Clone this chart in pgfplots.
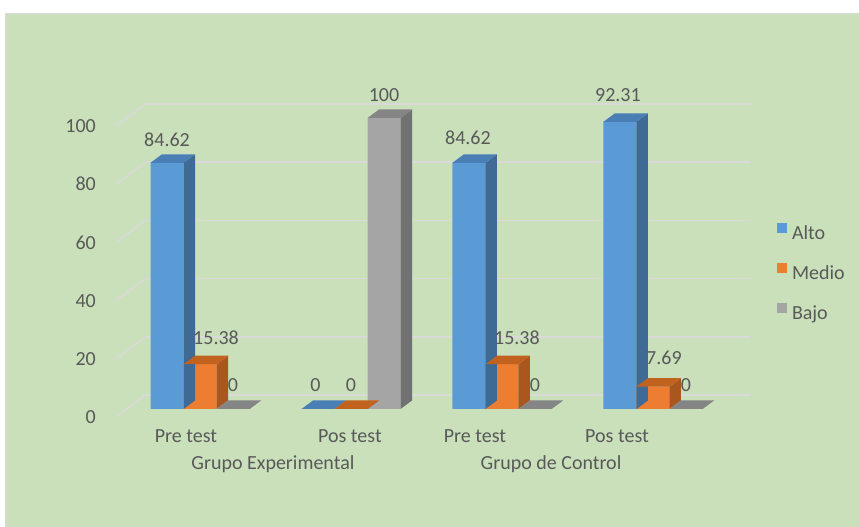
\documentclass[border=0pt]{standalone}
\usepackage{fontspec}
\setmainfont{Carlito}
\usepackage{pgfplots}
\pgfplotsset{compat=1.18}
\usepackage{pgfplotstable}

\definecolor{bg}{HTML}{C9E0BB}
\definecolor{panelborder}{HTML}{D9D9D9}
\definecolor{gridc}{HTML}{D9D9D9}
\definecolor{txt}{HTML}{595959}
\definecolor{blueF}{HTML}{5B9BD5}
\definecolor{blueS}{HTML}{3E6A95}
\definecolor{blueT}{HTML}{4A7FB5}
\definecolor{orF}{HTML}{ED7D31}
\definecolor{orS}{HTML}{A9561F}
\definecolor{orT}{HTML}{C2621F}
\definecolor{grF}{HTML}{A5A5A5}
\definecolor{grS}{HTML}{717171}
\definecolor{grT}{HTML}{858585}

% 3D side + top faces of a bar, drawn as a mark at the bar's top
\newcommand\defcube[4]{%
 \pgfdeclareplotmark{#1}{%
  \pgfsetfillcolor{#3}%
  \pgfpathmoveto{\pgfpoint{#2pt+16.5pt}{0pt}}%
  \pgfpathlineto{\pgfpoint{#2pt+28pt}{8.5pt}}%
  \pgfpathlineto{\pgfpoint{#2pt+28pt}{8.5pt-\cubeh pt}}%
  \pgfpathlineto{\pgfpoint{#2pt+16.5pt}{0pt-\cubeh pt}}%
  \pgfpathclose
  \pgfusepath{fill}%
  \pgfsetfillcolor{#4}%
  \pgfpathmoveto{\pgfpoint{#2pt-16.5pt}{0pt}}%
  \pgfpathlineto{\pgfpoint{#2pt+16.5pt}{0pt}}%
  \pgfpathlineto{\pgfpoint{#2pt+28pt}{8.5pt}}%
  \pgfpathlineto{\pgfpoint{#2pt-5pt}{8.5pt}}%
  \pgfpathclose
  \pgfusepath{fill}%
 }}
\defcube{cubeA}{-33}{blueS}{blueT}
\defcube{cubeB}{0}{orS}{orT}
\defcube{cubeC}{33}{grS}{grT}

\pgfplotstableread{
x val lab dx dy
0 84.62 84.62 0 23
1 0 0 -2.5 24
2 84.62 84.62 -1 25
3 98.7 92.31 -2 27
}\tabAlto
\pgfplotstableread{
x val lab dx dy
0 15.38 15.38 16 26
1 0 0 0 24
2 15.38 15.38 15 26
3 7.69 7.69 11 29
}\tabMedio
\pgfplotstableread{
x val lab dx dy
0 0 0 0 24
1 100 100 0 23
2 0 0 0 24
3 0 0 0 24
}\tabBajo

\pgfplotsset{
 mylegend/.style={legend image code/.code={\fill[##1] (0pt,1.4pt) rectangle (10pt,11.4pt);}},
 frontbar/.style={ybar, bar width=33pt, bar shift=#1, draw=none, mylegend},
 cube/.style 2 args={only marks, mark=#1, forget plot,
   visualization depends on={\thisrow{val}*2.91 \as \cubeh},
   nodes near coords, point meta=explicit symbolic,
   visualization depends on={\thisrow{dx} \as \labdx},
   visualization depends on={\thisrow{dy} \as \labdy},
   nodes near coords style={anchor=center, inner sep=0pt, xshift=#2+\labdx, yshift=\labdy,
     font=\fontsize{20}{24}\selectfont, text=txt}},
}

\begin{document}
\begin{tikzpicture}[x=1pt,y=1pt]
\path[use as bounding box] (0,0) rectangle (859,527);
\fill[white] (0,0) rectangle (859,527);
\filldraw[fill=bg, draw=panelborder, line width=1pt] (5.5,-2) rectangle (862,513.5);
\begin{axis}[
 at={(126.5pt,118pt)}, anchor=south west, scale only axis,
 width=604.5pt, height=291pt,
 xmin=-0.487, xmax=3.517, ymin=0, ymax=100,
 clip=false,
 axis line style={draw=none}, major tick length=0pt,
 ytick={0,20,...,100},
 xtick={-0.093,0.993,1.821,2.762},
 xticklabels={Pre test,Pos test,Pre test,Pos test},
 ymajorgrids,
 major grid style={draw=gridc, line width=1.5pt, xshift=19pt, yshift=14pt},
 tick label style={font=\fontsize{20}{24}\selectfont, text=txt},
 yticklabel style={/pgf/number format/assume math mode=true, inner sep=0pt, anchor=east, xshift=-30.5pt, yshift=-8pt},
 xticklabel style={anchor=base, inner sep=0pt, yshift=-34pt},
 legend style={draw=none, fill=none, inner sep=0pt, outer sep=0pt,
   at={(1.0761,0.6378)}, anchor=north west,
   font=\fontsize{20}{24}\selectfont, text=txt,
   nodes={inner sep=0pt, text height=14pt, text depth=4pt},
   row sep=19.5pt, column sep=5pt},
 legend cell align=left,
]
\pgfplotsinvokeforeach{0,20,...,100}{
  \draw[gridc, line width=1.5pt] ([xshift=-10.5pt,yshift=-8pt]axis cs:-0.487,#1) -- ([xshift=19pt,yshift=14pt]axis cs:-0.487,#1);
}
\addplot[frontbar=-33pt, fill=blueF] table[x=x, y=val]{\tabAlto};
\addlegendentry{Alto}
\addplot[cube={cubeA}{-33}] table[x=x, y=val, meta=lab]{\tabAlto};
\addplot[frontbar=0pt, fill=orF] table[x=x, y=val]{\tabMedio};
\addlegendentry{Medio}
\addplot[cube={cubeB}{0}] table[x=x, y=val, meta=lab]{\tabMedio};
\addplot[frontbar=33pt, fill=grF] table[x=x, y=val]{\tabBajo};
\addlegendentry{Bajo}
\addplot[cube={cubeC}{33}] table[x=x, y=val, meta=lab]{\tabBajo};
\node[font=\fontsize{20}{24}\selectfont, text=txt, anchor=base, inner sep=0pt] at ([yshift=-60pt]axis cs:0.483,0) {Grupo Experimental};
\node[font=\fontsize{20}{24}\selectfont, text=txt, anchor=base, inner sep=0pt] at ([yshift=-60pt]axis cs:2.325,0) {Grupo de Control};
\end{axis}
\end{tikzpicture}
\end{document}
